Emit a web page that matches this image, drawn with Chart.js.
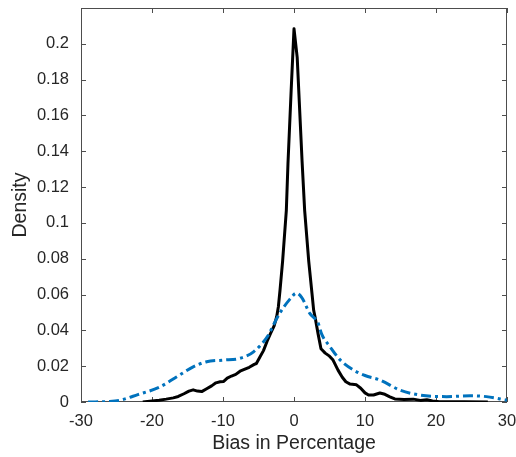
<!DOCTYPE html>
<html>
<head>
<meta charset="utf-8">
<script src="https://cdn.jsdelivr.net/npm/chart.js@4/dist/chart.umd.min.js"></script>
<style>
  body { margin: 0; background: #fff; }
  #wrap { width: 516px; height: 457px; position: relative; }
</style>
</head>
<body>
<div id="wrap"><canvas id="chart"></canvas></div>
<script>
// black solid curve (bias x, density y)
const blackX = [ -21.3, -20, -19, -18, -17, -16.3, -15.5, -14.8, -14.2, -13.6, -13.0, -12.3, -11.6, -11.0, -10.4, -9.9, -9.4, -8.8, -8.2, -7.6, -7.0, -6.3, -5.6, -5.3, -4.8, -4.3, -3.8, -3.3, -2.8, -2.44, -2.2, -1.97, -1.6, -1.08, -0.85, -0.4, 0, 0.45, 1.13, 1.5, 2.07, 2.54, 2.77, 2.96, 3.4, 3.8, 4.4, 5.0, 5.5, 6.2, 6.8, 7.3, 7.9, 8.8, 9.4, 10.0, 10.5, 11.2, 12.1, 12.8, 13.5, 14.2, 15.5, 16.8, 17.8, 18.7, 19.5, 20.5, 24, 27.3 ]
const blackY = [ 0, 0.0006, 0.001, 0.0016, 0.0023, 0.0031, 0.0046, 0.0061, 0.0068, 0.0061, 0.0058, 0.0074, 0.009, 0.0107, 0.0113, 0.0115, 0.0133, 0.0145, 0.0154, 0.0172, 0.0182, 0.0194, 0.021, 0.0215, 0.0251, 0.0287, 0.0338, 0.0383, 0.0425, 0.0476, 0.0532, 0.0624, 0.0788, 0.107, 0.133, 0.174, 0.2084, 0.1924, 0.135, 0.107, 0.0788, 0.0604, 0.0512, 0.0476, 0.0379, 0.0297, 0.0273, 0.0256, 0.0234, 0.0178, 0.0138, 0.0113, 0.01, 0.0096, 0.0077, 0.0051, 0.0039, 0.0039, 0.005, 0.0043, 0.0029, 0.0017, 0.0014, 0.0016, 0.0009, 0.0013, 0.0006, 0.0001, 0.0001, 0 ]

// blue dash-dot curve
const blueX = [ -29, -26, -24.5, -22, -19, -16.5, -14.2, -12.3, -10, -7.6, -5.7, -3.6, -2.9, -2.0, -0.6, 0.35, 1.1, 2.2, 3.4, 3.9, 5.1, 6.5, 8.4, 10, 12.1, 14.9, 17.7, 21.5, 24.8, 27.1, 30 ]
const blueY = [ 0, 0.0003, 0.001, 0.0041, 0.0082, 0.0141, 0.0196, 0.0225, 0.0234, 0.0244, 0.028, 0.0374, 0.043, 0.0496, 0.0573, 0.0608, 0.0583, 0.0496, 0.044, 0.0379, 0.0307, 0.0235, 0.0178, 0.0148, 0.0123, 0.0067, 0.0039, 0.003, 0.0035, 0.003, 0.001 ]

const xTicks = [ -30, -20, -10, 0, 10, 20, 30 ]
const yTicks = [ 0, 0.02, 0.04, 0.06, 0.08, 0.1, 0.12, 0.14, 0.16, 0.18, 0.2 ]

const pts = ( xs, ys ) => xs.map( ( x, i ) => ( { x: x, y: ys[ i ] } ) )

const AXIS = '#4d4d4d'
const TEXT = '#262626'

// box around the plot with inward tick marks (MATLAB style)
const boxPlugin = {
  id: 'box',
  beforeDatasetsDraw( chart ) {
    const { ctx, chartArea: a, scales } = chart
    const tl = 5
    ctx.save()
    ctx.strokeStyle = AXIS
    ctx.lineWidth = 1
    ctx.strokeRect( a.left + 0.5, a.top + 0.5, a.right - a.left - 1, a.bottom - a.top - 1 )
    ctx.beginPath()
    xTicks.forEach( v => {
      const px = Math.round( scales.x.getPixelForValue( v ) ) + 0.5
      ctx.moveTo( px, a.bottom ); ctx.lineTo( px, a.bottom - tl )
      ctx.moveTo( px, a.top ); ctx.lineTo( px, a.top + tl )
    } )
    yTicks.forEach( v => {
      const py = Math.round( scales.y.getPixelForValue( v ) ) + 0.5
      ctx.moveTo( a.left, py ); ctx.lineTo( a.left + tl, py )
      ctx.moveTo( a.right, py ); ctx.lineTo( a.right - tl, py )
    } )
    ctx.stroke()
    ctx.restore()
  }
}

new Chart( document.getElementById( 'chart' ), {
  type: 'scatter',
  data: {
    datasets: [ {
      data: pts( blueX, blueY ),
      showLine: true,
      borderColor: '#0072BD',
      borderWidth: 3,
      borderDash: [ 10, 4, 3, 4 ],
      pointRadius: 0,
      cubicInterpolationMode: 'monotone'
    }, {
      data: pts( blackX, blackY ),
      showLine: true,
      borderColor: '#000000',
      borderWidth: 3,
      borderJoinStyle: 'round',
      pointRadius: 0,
      tension: 0
    } ]
  },
  plugins: [ boxPlugin ],
  options: {
    responsive: true,
    maintainAspectRatio: false,
    animation: false,
    events: [ ],
    layout: { padding: { left: 0, right: 9, top: 8, bottom: 0 } },
    plugins: { legend: { display: false }, tooltip: { enabled: false } },
    scales: {
      x: {
        type: 'linear',
        min: -30, max: 30,
        afterBuildTicks: s => { s.ticks = xTicks.map( v => ( { value: v } ) ) },
        afterFit: s => { s.height = 55; s.paddingLeft = 0; s.paddingRight = 0 },
        grid: { display: false, drawTicks: false },
        border: { display: false },
        ticks: { color: TEXT, padding: 10, font: { family: 'Liberation Sans', size: 16.5 }, maxRotation: 0 },
        title: { display: true, text: 'Bias in Percentage', color: TEXT,
          font: { family: 'Liberation Sans', size: 19.5 }, padding: { top: 0, bottom: 2 } }
      },
      y: {
        min: 0, max: 0.22,
        afterBuildTicks: s => { s.ticks = yTicks.map( v => ( { value: v } ) ) },
        afterFit: s => { s.width = 81; s.paddingTop = 0; s.paddingBottom = 0 },
        grid: { display: false, drawTicks: false },
        border: { display: false },
        ticks: { color: TEXT, padding: 12, font: { family: 'Liberation Sans', size: 16.5 },
          callback: v => String( +v.toFixed( 2 ) ) },
        title: { display: true, text: 'Density', color: TEXT,
          font: { family: 'Liberation Sans', size: 19.5 }, padding: { top: 9, bottom: 0 } }
      }
    }
  }
} )
</script>
</body>
</html>
